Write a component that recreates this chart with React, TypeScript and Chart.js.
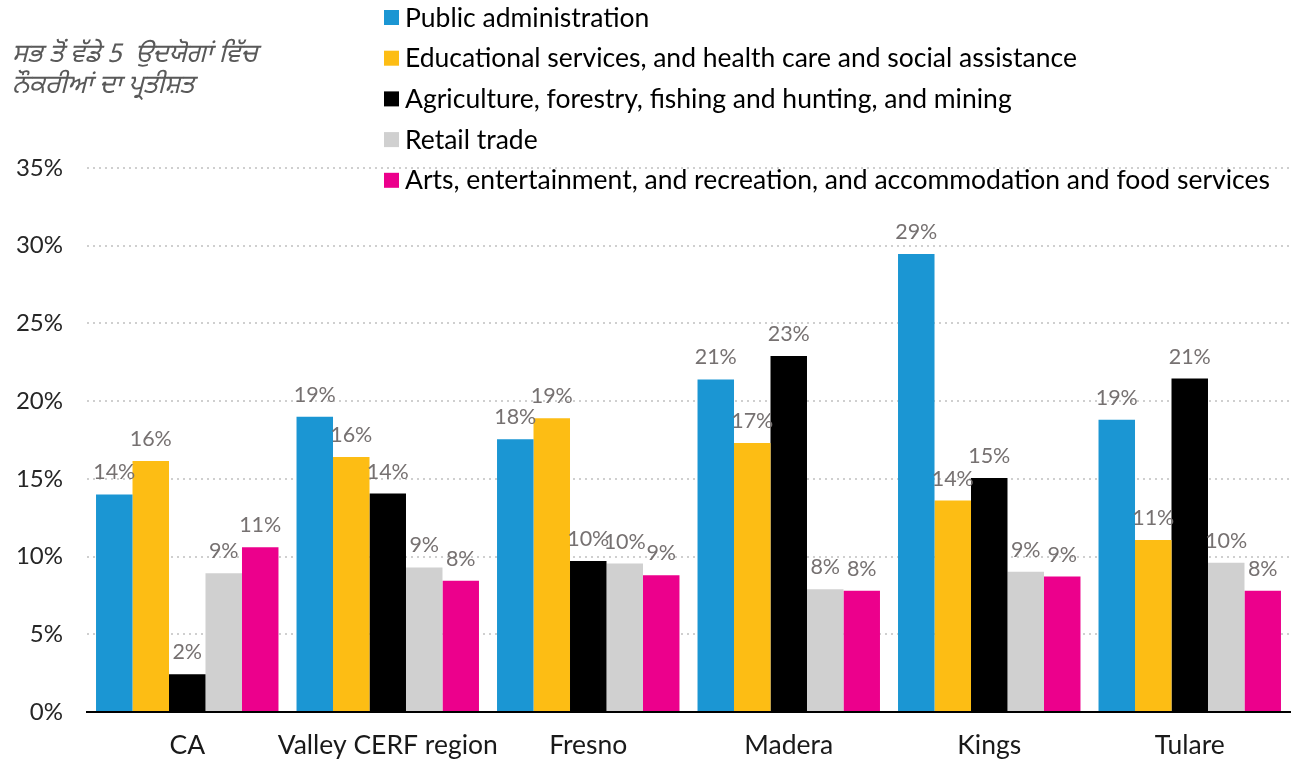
import React, { useEffect, useRef } from "react";
import { Chart, registerables } from "chart.js";

Chart.register(...registerables);

const categories = ["CA", "Valley CERF region", "Fresno", "Madera", "Kings", "Tulare"];
const seriesNames = [
  "Public administration",
  "Educational services, and health care and social assistance",
  "Agriculture, forestry, fishing and hunting, and mining",
  "Retail trade",
  "Arts, entertainment, and recreation, and accommodation and food services",
];
const publicAdmin = [14.0, 19.0, 17.55, 21.4, 29.47, 18.8];
const education = [16.15, 16.4, 18.9, 17.3, 13.6, 11.07];
const agriculture = [2.43, 14.05, 9.72, 22.9, 15.06, 21.45];
const retail = [8.93, 9.3, 9.55, 7.9, 9.03, 9.6];
const arts = [10.6, 8.45, 8.8, 7.8, 8.71, 7.8];
const seriesColors = ["#1B96D3", "#FDBD14", "#000000", "#D0D0D0", "#EC008C"];
const yTicks = [0, 5, 10, 15, 20, 25, 30, 35];
const titleLines = ["ਸਭ ਤੋਂ ਵੱਡੇ 5  ਉਦਯੋਗਾਂ ਵਿੱਚ", "ਨੌਕਰੀਆਂ ਦਾ ਪ੍ਰਤੀਸ਼ਤ"];

const FONT = "Lato, 'Open Sans', 'Noto Sans', sans-serif";

export default function App() {
  const canvasRef = useRef<HTMLCanvasElement | null>(null);

  useEffect(() => {
    document.body.style.margin = "0";
    const canvas = canvasRef.current;
    if (!canvas) return;
    const allSeries = [publicAdmin, education, agriculture, retail, arts];

    const labelPlugin = {
      id: "valueLabels",
      afterDatasetsDraw(chart: any) {
        const ctx = chart.ctx;
        ctx.save();
        ctx.font = `21.5px ${FONT}`;
        ctx.fillStyle = "#767171";
        ctx.textAlign = "center";
        ctx.textBaseline = "middle";
        chart.data.datasets.forEach((ds: any, i: number) => {
          const meta = chart.getDatasetMeta(i);
          meta.data.forEach((el: any, j: number) => {
            const v = ds.data[j];
            ctx.fillText(Math.round(v) + "%", el.x, el.y - 22);
          });
        });
        ctx.restore();
      },
      afterDraw(chart: any) {
        const ctx = chart.ctx;
        ctx.save();
        // legend
        ctx.font = `26.5px ${FONT}`;
        ctx.textBaseline = "middle";
        ctx.textAlign = "left";
        chart.data.datasets.forEach((ds: any, i: number) => {
          const cy = 17 + i * 40.7;
          ctx.fillStyle = ds.backgroundColor;
          ctx.fillRect(384, cy - 7, 15, 15);
          ctx.fillStyle = "#000000";
          ctx.fillText(ds.label, 405, cy + 1);
        });
        // title
        ctx.font = `italic 26px 'Noto Sans Gurmukhi', 'Lohit Gurmukhi', ${FONT}`;
        ctx.fillStyle = "#595959";
        titleLines.forEach((t, i) => ctx.fillText(t, 12, 57 + i * 31));
        ctx.restore();
      },
    };

    const chart = new Chart(canvas, {
      type: "bar",
      data: {
        labels: categories,
        datasets: allSeries.map((d, i) => ({
          label: seriesNames[i],
          data: d,
          backgroundColor: seriesColors[i],
          borderWidth: 0,
          categoryPercentage: 0.91,
          barPercentage: 1,
        })),
      },
      options: {
        responsive: false,
        animation: false,
        layout: { padding: { top: 168, right: 10, left: 0, bottom: 0 } },
        plugins: {
          legend: { display: false },
          tooltip: { enabled: false },
          title: { display: false },
        },
        scales: {
          x: {
            grid: { display: false, drawTicks: false },
            border: { display: true, color: "#000000", width: 2 },
            ticks: {
              padding: 18,
              color: "#1A1A1A",
              font: { size: 26.5, family: FONT },
              maxRotation: 0,
              minRotation: 0,
              autoSkip: false,
            },
            afterFit(scale: any) {
              scale.height = 53;
            },
          },
          y: {
            min: 0,
            max: 35,
            afterBuildTicks(scale: any) {
              scale.ticks = yTicks.map((v) => ({ value: v }));
            },
            grid: { color: "#CFCFCF", lineWidth: 2, drawTicks: false },
            border: { display: false, dash: [2, 4] },
            ticks: {
              padding: 24,
              color: "#262626",
              font: { size: 24, family: FONT },
              callback: (v: any) => v + "%",
            },
            afterFit(scale: any) {
              scale.width = 87;
            },
          },
        },
      },
      plugins: [labelPlugin],
    });
    return () => chart.destroy();
  }, []);

  return (
    <div style={{ position: "absolute", left: 0, top: 0, width: 1300, height: 765, background: "#fff" }}>
      <canvas ref={canvasRef} width={1300} height={765} />
    </div>
  );
}
